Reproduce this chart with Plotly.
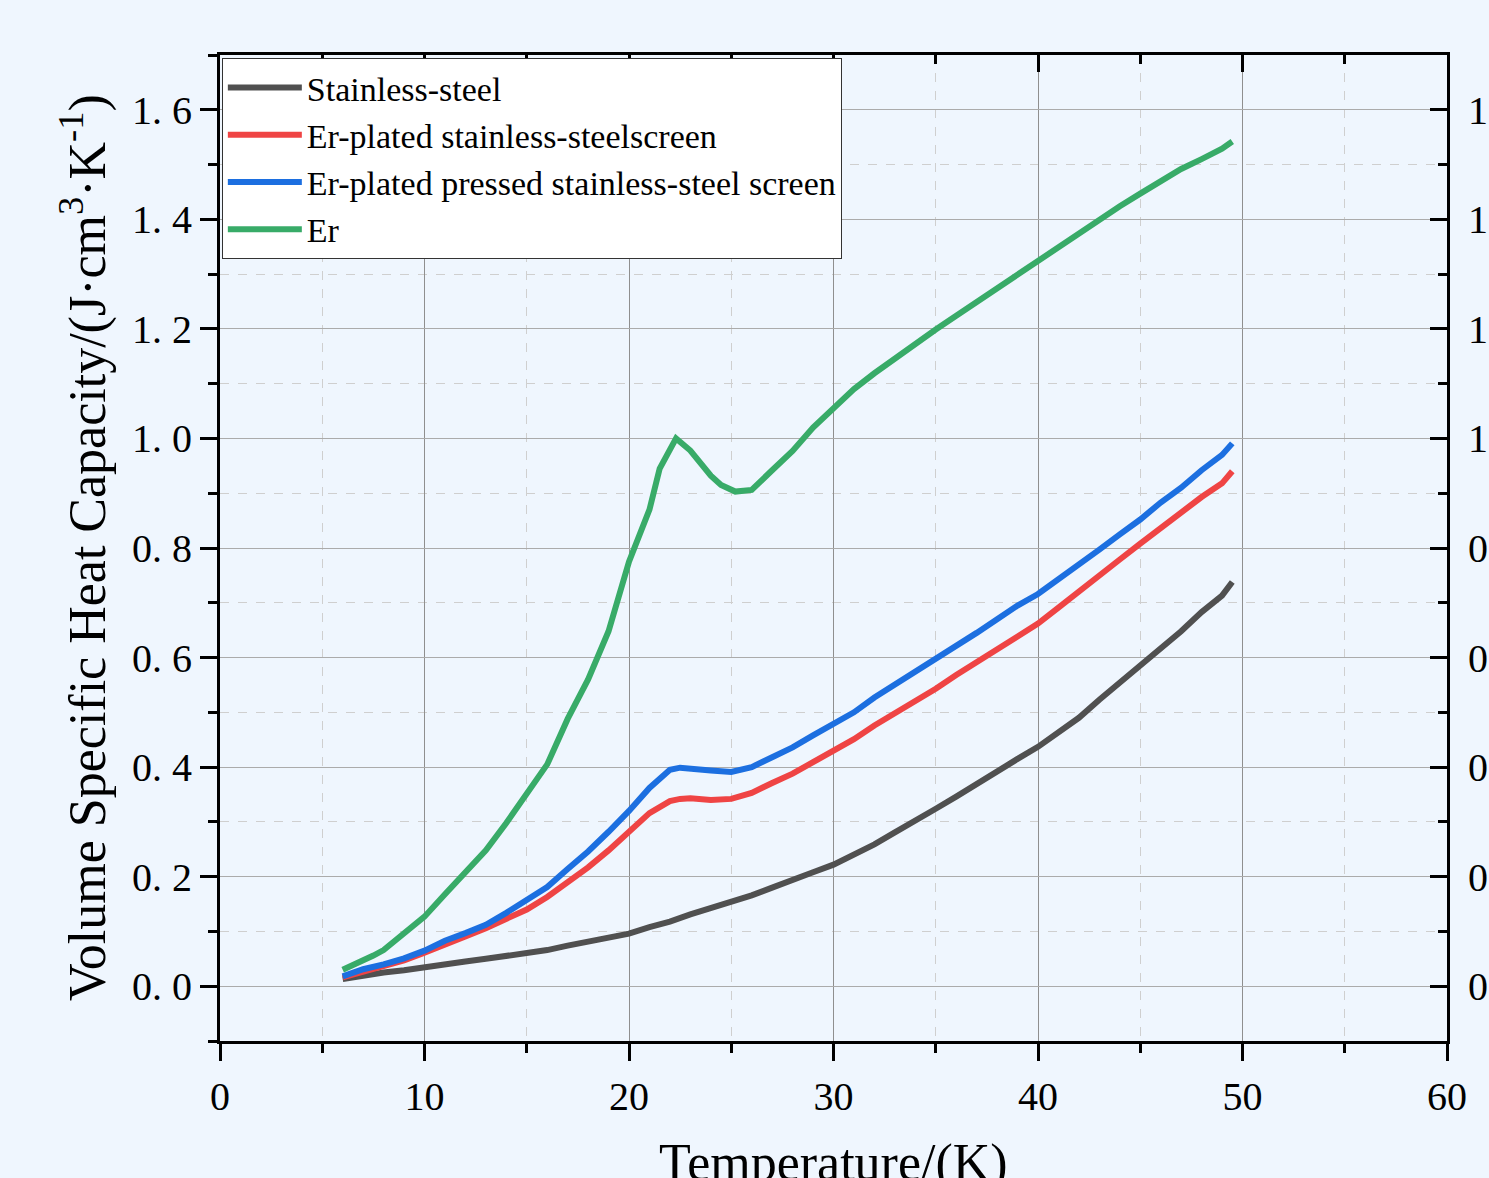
import plotly.graph_objects as go

# ---- data ----
temp_ss = [6, 7, 8, 9, 10, 11, 12, 13, 14, 15, 16, 17, 18, 19, 20, 21, 22, 23, 24, 25, 26, 27, 28, 29, 30,
           31, 32, 33, 34, 35, 36, 37, 38, 39, 40, 41, 42, 43, 44, 45, 46, 47, 48, 49, 49.5]
ss = [0.013, 0.020, 0.025, 0.029, 0.035, 0.041, 0.045, 0.050, 0.055, 0.059, 0.066, 0.074, 0.081, 0.089,
      0.096, 0.108, 0.118, 0.131, 0.142, 0.153, 0.166, 0.180, 0.193, 0.208, 0.222, 0.239, 0.259, 0.281,
      0.301, 0.324, 0.346, 0.370, 0.392, 0.415, 0.437, 0.463, 0.490, 0.523, 0.554, 0.587, 0.618, 0.648,
      0.683, 0.713, 0.738]

temp_er = [6, 7, 8, 9, 10, 11, 12, 13, 14, 15, 16, 17, 18, 19, 20, 21, 22, 22.5, 23, 24, 25, 26, 27, 28,
           29, 30, 31, 32, 33, 34, 35, 36, 37, 38, 39, 40, 41, 42, 43, 44, 45, 46, 47, 48, 49, 49.5]
er_ss = [0.016, 0.027, 0.036, 0.047, 0.061, 0.077, 0.091, 0.106, 0.122, 0.140, 0.163, 0.190, 0.217, 0.248,
         0.281, 0.316, 0.338, 0.342, 0.343, 0.340, 0.342, 0.353, 0.371, 0.388, 0.409, 0.429, 0.451, 0.476,
         0.498, 0.521, 0.543, 0.568, 0.591, 0.615, 0.640, 0.662, 0.691, 0.721, 0.752, 0.779, 0.808, 0.837,
         0.865, 0.893, 0.918, 0.940]
er_pressed = [0.018, 0.031, 0.040, 0.051, 0.065, 0.083, 0.097, 0.112, 0.134, 0.156, 0.181, 0.214, 0.246,
              0.282, 0.320, 0.362, 0.395, 0.399, 0.398, 0.394, 0.391, 0.400, 0.418, 0.436, 0.458, 0.480,
              0.500, 0.527, 0.550, 0.574, 0.597, 0.621, 0.645, 0.670, 0.695, 0.716, 0.742, 0.770, 0.797,
              0.825, 0.852, 0.883, 0.910, 0.942, 0.970, 0.991]

temp_pure = [6, 7, 7.5, 8, 9, 10, 11, 12, 13, 14, 15, 16, 17, 18, 19, 20, 21, 21.5, 22.3, 23, 24, 24.5,
             25.2, 26, 27, 28, 29, 30, 31, 32, 33, 34, 35, 36, 37, 38, 39, 40, 41, 42, 43, 44, 45, 46, 47,
             48, 49, 49.5]
er = [0.030, 0.046, 0.056, 0.066, 0.095, 0.127, 0.168, 0.208, 0.248, 0.298, 0.350, 0.405, 0.488, 0.560,
      0.648, 0.775, 0.870, 0.945, 1.000, 0.978, 0.932, 0.915, 0.903, 0.906, 0.942, 0.977, 1.020, 1.056,
      1.090, 1.119, 1.146, 1.174, 1.199, 1.224, 1.249, 1.275, 1.300, 1.326, 1.349, 1.373, 1.400, 1.424,
      1.447, 1.471, 1.492, 1.510, 1.529, 1.542]

series_names = ["Stainless-steel", "Er-plated stainless-steelscreen",
                "Er-plated pressed stainless-steel screen", "Er"]
series_colors = ["#505050", "#ef4444", "#1c6fe0", "#38ab68"]

y_tickvals = [0.0, 0.2, 0.4, 0.6, 0.8, 1.0, 1.2, 1.4, 1.6]
y_ticktext = ["0. 0", "0. 2", "0. 4", "0. 6", "0. 8", "1. 0", "1. 2", "1. 4", "1. 6"]
x_tickvals = [0, 10, 20, 30, 40, 50, 60]
x_ticktext = ["0", "10", "20", "30", "40", "50", "60"]

BG = "#eff6fe"
FONT = "Liberation Serif, Times New Roman, serif"

fig = go.Figure()
for xs, ys, name, col in [(temp_ss, ss, series_names[0], series_colors[0]),
                          (temp_er, er_ss, series_names[1], series_colors[1]),
                          (temp_er, er_pressed, series_names[2], series_colors[2]),
                          (temp_pure, er, series_names[3], series_colors[3])]:
    fig.add_trace(go.Scatter(x=xs, y=ys, mode="lines", name=name,
                             line=dict(color=col, width=6)))

# invisible trace for the mirrored axes
fig.add_trace(go.Scatter(x=[0], y=[0], xaxis="x2", yaxis="y2", mode="markers",
                         marker=dict(opacity=0), showlegend=False, hoverinfo="skip"))

xr = [0, 60]
yr = [-0.1, 1.7]

fig.update_layout(
    width=1489, height=1178,
    margin=dict(l=220, r=42, t=55, b=137, autoexpand=False),
    paper_bgcolor=BG, plot_bgcolor=BG,
    font=dict(family=FONT, color="black"),
    showlegend=True,
    legend=dict(x=0.0015, y=0.997, xanchor="left", yanchor="top",
                bgcolor="white", bordercolor="#333333", borderwidth=1,
                font=dict(family=FONT, size=34, color="black"),
                itemwidth=74, tracegroupgap=0),
    xaxis=dict(range=xr, tickvals=x_tickvals, ticktext=x_ticktext, automargin=False,
               ticks="outside", ticklen=17, tickwidth=3, tickcolor="black",
               showline=True, linecolor="black", linewidth=3,
               showgrid=True, gridcolor="#8f8f8f", gridwidth=1, zeroline=False,
               tickfont=dict(family=FONT, size=40),
               ticklabelstandoff=1,
               minor=dict(dtick=5, tick0=0, ticks="outside", ticklen=9, tickwidth=3,
                          tickcolor="black", showgrid=True, gridcolor="#cfcfcf",
                          griddash="dash", gridwidth=1)),
    yaxis=dict(range=yr, tickvals=y_tickvals, ticktext=y_ticktext, automargin=False,
               ticks="outside", ticklen=17, tickwidth=3, tickcolor="black",
               showline=True, linecolor="black", linewidth=3,
               showgrid=True, gridcolor="#ababab", gridwidth=1, zeroline=False,
               tickfont=dict(family=FONT, size=40),
               minor=dict(dtick=0.1, tick0=0, ticks="outside", ticklen=9, tickwidth=3,
                          tickcolor="black", showgrid=True, gridcolor="#cfcfcf",
                          griddash="dash", gridwidth=1)),
    xaxis2=dict(range=xr, overlaying="x", side="top", anchor="y2", automargin=False,
                tickvals=x_tickvals, showticklabels=False,
                ticks="inside", ticklen=17, tickwidth=3, tickcolor="black",
                showline=True, linecolor="black", linewidth=3,
                showgrid=False, zeroline=False,
                minor=dict(dtick=5, tick0=0, ticks="inside", ticklen=9, tickwidth=3,
                           tickcolor="black", showgrid=False)),
    yaxis2=dict(range=yr, overlaying="y", side="right", anchor="x2", automargin=False,
                tickvals=y_tickvals, ticktext=y_ticktext,
                ticks="inside", ticklen=17, tickwidth=3, tickcolor="black",
                showline=True, linecolor="black", linewidth=3,
                showgrid=False, zeroline=False,
                tickfont=dict(family=FONT, size=40),
                ticklabelstandoff=10,
                minor=dict(dtick=0.1, tick0=0, ticks="inside", ticklen=9, tickwidth=3,
                           tickcolor="black", showgrid=False)),
    annotations=[
        dict(text="Volume Specific Heat Capacity/(J·cm<sup>3</sup>·K<sup>-1</sup>)",
             xref="paper", yref="paper", x=0, y=0.5, xshift=-136,
             xanchor="center", yanchor="middle", textangle=-90, showarrow=False,
             font=dict(family=FONT, size=52, color="black")),
        dict(text="Temperature/(K)",
             xref="paper", yref="paper", x=0.5, y=-0.124,
             xanchor="center", yanchor="middle", showarrow=False,
             font=dict(family=FONT, size=52, color="black")),
    ],
)

fig.write_html(
    "out.html",
    config={"displayModeBar": False},
    post_script="document.body.style.margin='0';document.body.style.background='#eff6fe';"
                "document.documentElement.style.background='#eff6fe';",
)
